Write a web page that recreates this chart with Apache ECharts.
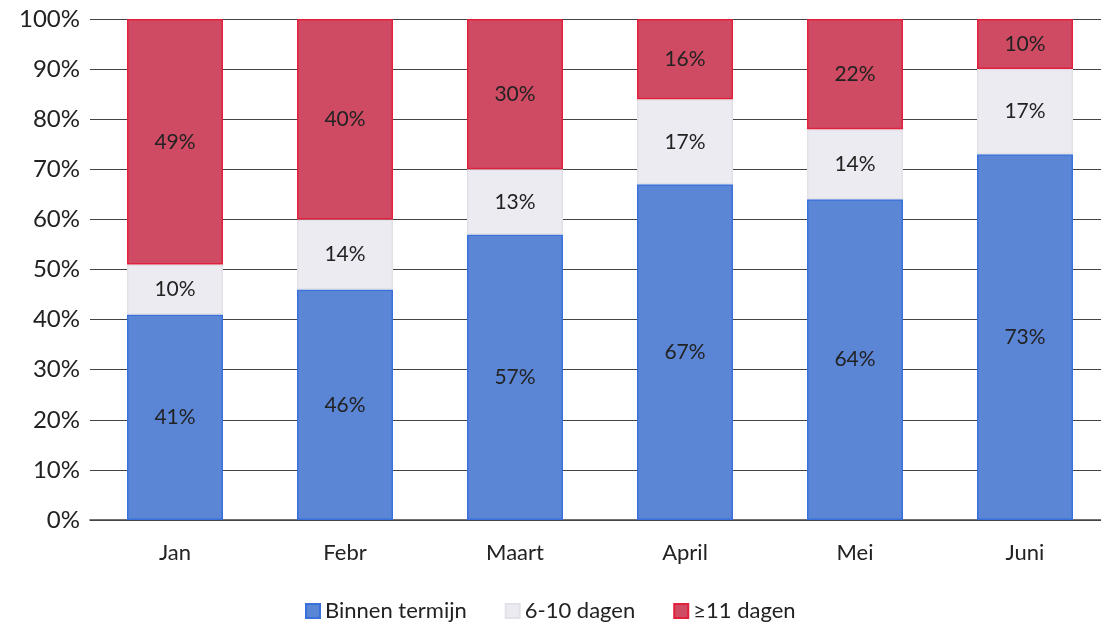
<!DOCTYPE html>
<html><head><meta charset="utf-8">
<script src="https://cdn.jsdelivr.net/npm/echarts@6/dist/echarts.min.js"></script>
<style>html,body{margin:0;padding:0;background:#fff;overflow:hidden;width:1101px;height:629px}#c{width:1110px;height:629px}</style>
</head><body><div id="c"></div>
<script>
var categories = ['Jan','Febr','Maart','April','Mei','Juni'];
var binnenTermijn = [41,46,57,67,64,73];
var dagen6_10 = [10,14,13,17,14,17];
var dagen11 = [49,40,30,16,22,10];
var yTicks = [0,10,20,30,40,50,60,70,80,90,100];

var font = 'Lato, "Open Sans", sans-serif';
var chart = echarts.init(document.getElementById('c'));
function mk(name, data, color, border){
  return {name:name,type:'bar',stack:'a',data:data,barWidth:96,
    itemStyle:{color:color,borderColor:border,borderWidth:1.5},
    label:{show:true,position:'inside',formatter:'{c}%',color:'#222',fontSize:21,fontFamily:font}};
}
chart.setOption({
  animation:false,
  grid:{left:90,top:19,right:0,height:501},
  legend:{top:595,left:300,itemWidth:14,itemHeight:14,itemGap:38,icon:'rect',
    textStyle:{fontSize:22,color:'#222',fontFamily:font}},
  xAxis:{type:'category',data:categories,axisTick:{show:false},
    axisLine:{lineStyle:{color:'#444',width:1.5}},
    axisLabel:{fontSize:22,color:'#222',margin:22,fontFamily:font}},
  yAxis:{type:'value',min:0,max:100,interval:10,
    axisLabel:{formatter:function(v){return yTicks.indexOf(v)>=0? v+'%':'';},fontSize:24,color:'#222',margin:10,fontFamily:font},
    splitLine:{lineStyle:{color:'#444',width:1.2}},axisLine:{show:false},axisTick:{show:false}},
  series:[
    mk('Binnen termijn',binnenTermijn,'#5b86d6','#3a70dc'),
    mk('6-10 dagen',dagen6_10,'#ecebf1','#e2e1e8'),
    mk('\u226511 dagen',dagen11,'#cf4b63','#e3203c')
  ]
});
</script></body></html>
